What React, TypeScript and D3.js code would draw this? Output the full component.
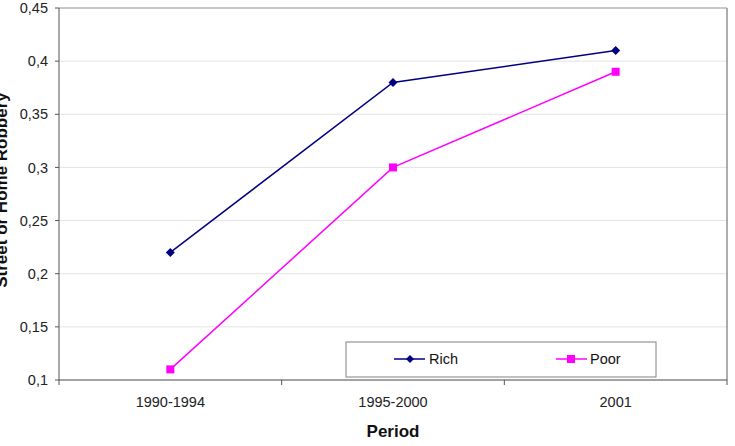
import * as d3 from 'd3'

// Robbery rates by period, rich vs poor households
const periods = ['1990-1994', '1995-2000', '2001']
const richValues = [0.22, 0.38, 0.41]
const poorValues = [0.11, 0.3, 0.39]
const yTicks = [0.1, 0.15, 0.2, 0.25, 0.3, 0.35, 0.4, 0.45]

const W = 735
const H = 446
const margin = { top: 8, right: 8, bottom: 66, left: 59 }
const FONT = "'Liberation Sans', Arial, sans-serif"

const fmt = (v: number) => String(+v.toFixed(2)).replace('.', ',')

export default function App() {
  const iW = W - margin.left - margin.right
  const iH = H - margin.top - margin.bottom

  const x = d3.scaleBand<string>().domain(periods).range([0, iW])
  const y = d3.scaleLinear().domain([0.1, 0.45]).range([iH, 0])
  const cx = (p: string) => (x(p) ?? 0) + x.bandwidth() / 2

  const line = d3
    .line<number>()
    .x((_, i) => cx(periods[i]))
    .y((v) => y(v))

  const bounds = [...periods.map((p) => x(p) ?? 0), iW]

  const diamond = (px: number, py: number, r = 4.5) =>
    `M${px},${py - r}L${px + r},${py}L${px},${py + r}L${px - r},${py}Z`

  return (
    <svg
      width={W}
      height={H}
      style={{ position: 'absolute', left: 0, top: 0, background: '#fff' }}
      fontFamily={FONT}
    >
      <g transform={`translate(${margin.left},${margin.top})`}>
        {/* grid */}
        {yTicks.map((t) => (
          <line key={t} x1={0} x2={iW} y1={y(t)} y2={y(t)} stroke="#e3e3e3" strokeWidth={1} />
        ))}
        {/* plot frame */}
        <line x1={0} x2={iW} y1={0} y2={0} stroke="#a0a0a0" />
        <line x1={iW} x2={iW} y1={0} y2={iH} stroke="#909090" strokeWidth={1.5} />

        {/* y axis */}
        <line x1={0} x2={0} y1={0} y2={iH} stroke="#555" />
        {yTicks.map((t) => (
          <g key={t} transform={`translate(0,${y(t)})`}>
            <line x1={-4} x2={0} stroke="#555" />
            <text x={-11} dy="0.35em" textAnchor="end" fontSize={14.5} fill="#222">
              {fmt(t)}
            </text>
          </g>
        ))}

        {/* x axis */}
        <line x1={0} x2={iW} y1={iH} y2={iH} stroke="#555" />
        {bounds.map((b, i) => (
          <line key={i} x1={b} x2={b} y1={iH} y2={iH + 5} stroke="#555" />
        ))}
        {periods.map((p) => (
          <text key={p} x={cx(p)} y={iH + 27} textAnchor="middle" fontSize={14.5} fill="#222">
            {p}
          </text>
        ))}

        {/* series */}
        <path d={line(richValues) ?? ''} fill="none" stroke="#000080" strokeWidth={1.5} />
        <path d={line(poorValues) ?? ''} fill="none" stroke="#ff00ff" strokeWidth={1.5} />
        {richValues.map((v, i) => (
          <path key={i} d={diamond(cx(periods[i]), y(v))} fill="#000080" />
        ))}
        {poorValues.map((v, i) => (
          <rect key={i} x={cx(periods[i]) - 4} y={y(v) - 4} width={8} height={8} fill="#ff00ff" />
        ))}

        {/* legend */}
        <g transform={`translate(${346 - margin.left},${342 - margin.top})`}>
          <rect x={0} y={0} width={310} height={35} fill="#fff" stroke="#808080" strokeWidth={1} />
          <line x1={48} x2={79} y1={17} y2={17} stroke="#000080" strokeWidth={1.5} />
          <path d={diamond(64, 17, 4)} fill="#000080" />
          <text x={83} y={22} fontSize={14.5} fill="#111">
            Rich
          </text>
          <line x1={210} x2={241} y1={17} y2={17} stroke="#ff00ff" strokeWidth={1.5} />
          <rect x={221} y={13} width={8} height={8} fill="#ff00ff" />
          <text x={244} y={22} fontSize={14.5} fill="#111">
            Poor
          </text>
        </g>
      </g>

      {/* axis titles */}
      <text x={393} y={437} textAnchor="middle" fontSize={17} fontWeight="bold" fill="#111">
        Period
      </text>
      <text
        transform={`translate(7,${margin.top + iH / 2 - 4}) rotate(-90)`}
        textAnchor="middle"
        fontSize={17}
        fontWeight="bold"
        fill="#111"
      >
        Street or Home Robbery
      </text>
    </svg>
  )
}
